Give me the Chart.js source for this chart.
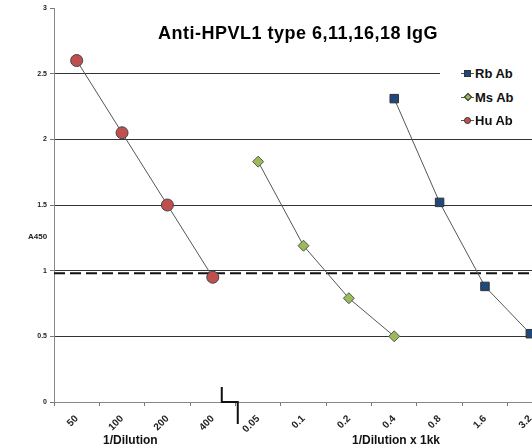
<!DOCTYPE html>
<html lang="en">
<head>
    <meta charset="UTF-8">
    <title>Anti-HPVL1 type 6,11,16,18 IgG</title>
    <style>
        body {
            margin: 0;
            padding: 0;
            background: #ffffff;
            overflow: hidden;
            font-family: Arial, 'Liberation Sans', sans-serif;
        }

        .wrap {
            position: relative;
            width: 560px;
            height: 448px;
        }

        .wrap canvas {
            position: absolute;
            left: 0;
            top: 0;
        }

        .title {
            position: absolute;
            left: 158px;
            top: 23px;
            font-size: 18px;
            letter-spacing: 0.5px;
            font-weight: bold;
            color: #000;
            white-space: nowrap;
        }

        .ylabel {
            position: absolute;
            left: 28px;
            top: 232px;
            font-size: 8px;
            font-weight: bold;
            color: #222;
        }

        .xlabel {
            position: absolute;
            top: 433px;
            font-size: 12px;
            font-weight: bold;
            color: #111;
            white-space: nowrap;
        }

        .legend {
            position: absolute;
            left: 440px;
            top: 62px;
            width: 100px;
            height: 70px;
            background: #ffffff;
        }

        .legend div {
            position: relative;
            height: 23.5px;
            line-height: 23px;
            padding-left: 35px;
            font-size: 13px;
            font-weight: bold;
            color: #111;
        }

        .legend div::before {
            content: "";
            position: absolute;
            left: 21px;
            top: 11px;
            width: 13px;
            height: 1px;
            background: #555;
        }

        .legend span {
            position: absolute;
            left: 24px;
            top: 8px;
            width: 7px;
            height: 7px;
            border: 1px solid #333;
            box-sizing: border-box;
        }
    </style>
    <script src="https://cdn.jsdelivr.net/npm/chart.js"></script>
</head>
<body>
    <div class="wrap">
        <canvas id="elisaChart" width="560" height="448"></canvas>
        <div class="title">Anti-HPVL1 type 6,11,16,18 IgG</div>
        <div class="ylabel">A450</div>
        <div class="xlabel" style="left: 103px;">1/Dilution</div>
        <div class="xlabel" style="left: 352px;">1/Dilution x 1kk</div>
        <div class="legend">
            <div><span style="background:#1f497d;"></span>Rb Ab</div>
            <div><span style="background:#9bbb59; transform: rotate(45deg); width:6px; height:6px; left:24.5px; top:8.5px;"></span>Ms Ab</div>
            <div><span style="background:#c0504d; border-radius:50%;"></span>Hu Ab</div>
        </div>
    </div>

    <script>
        const dilutions = ['50', '100', '200', '400', '0.05', '0.1', '0.2', '0.4', '0.8', '1.6', '3.2'];
        const huAb = [2.60, 2.05, 1.50, 0.95, null, null, null, null, null, null, null];
        const msAb = [null, null, null, null, 1.83, 1.19, 0.79, 0.50, null, null, null];
        const rbAb = [null, null, null, null, null, null, null, 2.31, 1.52, 0.88, 0.52];
        const cutoff = 0.98;

        // dashed cut-off line and the axis break mark
        const extras = {
            id: 'extras',
            beforeDatasetsDraw(chart) {
                const ctx = chart.ctx;
                const area = chart.chartArea;
                const y = chart.scales.y.getPixelForValue(cutoff);
                ctx.save();
                ctx.strokeStyle = '#111';
                ctx.lineWidth = 2;
                ctx.setLineDash([11, 5]);
                ctx.beginPath();
                ctx.moveTo(area.left, y);
                ctx.lineTo(area.right, y);
                ctx.stroke();
                ctx.restore();
            },
            afterDraw(chart) {
                const ctx = chart.ctx;
                const x = chart.scales.x;
                const bottom = chart.chartArea.bottom;
                const x0 = x.getPixelForValue(3) + 9;
                const x1 = x0 + 16;
                ctx.save();
                ctx.strokeStyle = '#111';
                ctx.lineWidth = 2;
                ctx.beginPath();
                ctx.moveTo(x0, bottom - 15);
                ctx.lineTo(x0, bottom);
                ctx.lineTo(x1, bottom);
                ctx.lineTo(x1, bottom + 22);
                ctx.stroke();
                ctx.restore();
            }
        };

        new Chart(document.getElementById('elisaChart'), {
            type: 'line',
            data: {
                labels: dilutions,
                datasets: [
                    { label: 'Rb Ab', data: rbAb, borderColor: '#555', borderWidth: 1, pointStyle: 'rect', pointRadius: 6, pointBackgroundColor: '#1f497d', pointBorderColor: '#333', pointBorderWidth: 1 },
                    { label: 'Ms Ab', data: msAb, borderColor: '#555', borderWidth: 1, pointStyle: 'rectRot', pointRadius: 5.5, pointBackgroundColor: '#9bbb59', pointBorderColor: '#555', pointBorderWidth: 1 },
                    { label: 'Hu Ab', data: huAb, borderColor: '#555', borderWidth: 1, pointStyle: 'circle', pointRadius: 6, pointBackgroundColor: '#c0504d', pointBorderColor: '#444', pointBorderWidth: 1 }
                ]
            },
            options: {
                responsive: false,
                animation: false,
                layout: { padding: { top: 8, right: 6, left: 0, bottom: 0 } },
                plugins: {
                    legend: { display: false },
                    tooltip: { enabled: false }
                },
                scales: {
                    x: {
                        offset: true,
                        grid: { offset: true, drawOnChartArea: false, drawTicks: true, tickLength: 4, tickColor: '#777' },
                        border: { color: '#888', width: 1 },
                        ticks: {
                            minRotation: 45,
                            maxRotation: 45,
                            padding: 7,
                            color: '#222',
                            font: { family: 'Arial, "Liberation Sans", sans-serif', size: 10, weight: 'bold' }
                        },
                        afterFit(scale) { scale.height = 46; }
                    },
                    y: {
                        min: 0,
                        max: 3,
                        ticks: {
                            stepSize: 0.5,
                            padding: 3,
                            color: '#222',
                            font: { family: 'Arial, "Liberation Sans", sans-serif', size: 7, weight: 'bold' },
                            callback: (v) => String(v)
                        },
                        grid: {
                            color: (c) => (c.tick && (c.tick.value === 3 || c.tick.value === 0)) ? 'rgba(0,0,0,0)' : '#333',
                            tickColor: '#777',
                            tickLength: 4,
                            lineWidth: 1
                        },
                        border: { color: '#888', width: 1 },
                        afterFit(scale) { scale.width = 54; }
                    }
                }
            },
            plugins: [extras]
        });
    </script>
</body>
</html>
